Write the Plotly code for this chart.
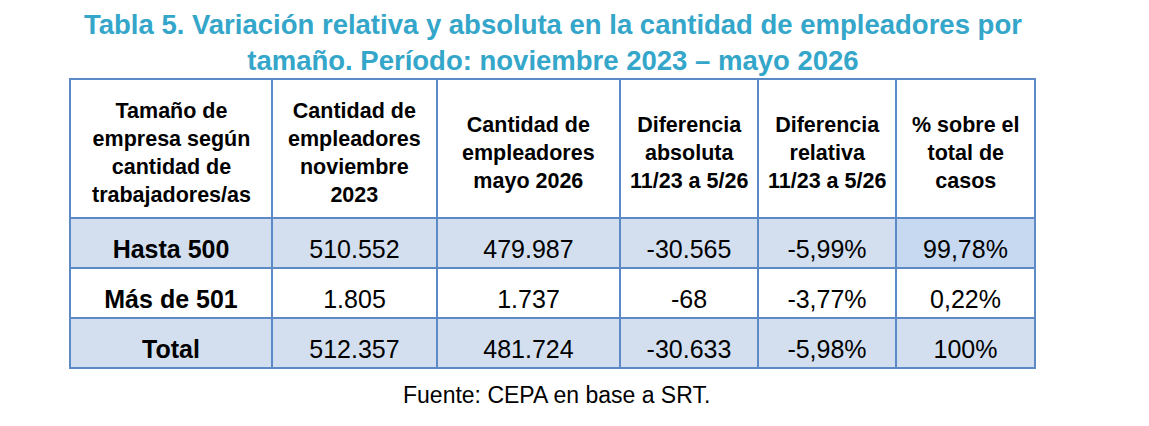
import plotly.graph_objects as go

# datos de la tabla
headers = [
    "Tamaño de<br>empresa según<br>cantidad de<br>trabajadores/as",
    "Cantidad de<br>empleadores<br>noviembre<br>2023",
    "Cantidad de<br>empleadores<br>mayo 2026",
    "Diferencia<br>absoluta<br>11/23 a 5/26",
    "Diferencia<br>relativa<br>11/23 a 5/26",
    "% sobre el<br>total de<br>casos",
]
tamanio = ["Hasta 500", "Más de 501", "Total"]
nov_2023 = ["510.552", "1.805", "512.357"]
may_2026 = ["479.987", "1.737", "481.724"]
dif_abs = ["-30.565", "-68", "-30.633"]
dif_rel = ["-5,99%", "-3,77%", "-5,98%"]
pct_total = ["99,78%", "0,22%", "100%"]

titulo = ("Tabla 5. Variación relativa y absoluta en la cantidad de empleadores por<br>"
          "tamaño. Período: noviembre 2023 – mayo 2026")
fuente = "Fuente: CEPA en base a SRT."

W, H = 1149, 426
off = 8  # margen del body de la página
azul = "#D3DFEF"
azul2 = "#C6D9F1"
borde = "#5B8AC6"
fila = [azul, "white", azul]
fills = [fila] * 5 + [[azul2, "white", azul]]

anchos = [202, 165, 183, 138, 138, 139]
x0, x1 = 70 - off, 1035 - off  # bordes de la tabla en px
top = 79 - off
baja = 13  # el texto de las celdas va un poco más abajo que en plotly

columnas = [tamanio, nov_2023, may_2026, dif_abs, dif_rel, pct_total]
vacias = [[""] * len(tamanio) for _ in columnas]


def px(x):
    return x / W


def py(y):
    return 1 - y / H


# grilla y rellenos
fig = go.Figure(go.Table(
    domain=dict(x=[px(x0), px(x1)], y=[0, py(top)]),
    columnwidth=anchos,
    header=dict(
        values=[""] * len(headers),
        height=139,
        fill_color="white",
        line=dict(color=borde, width=2),
    ),
    cells=dict(
        values=vacias,
        height=50,
        fill_color=fills,
        line=dict(color=borde, width=2),
    ),
))

# textos de las celdas, tabla transparente encima
fig.add_trace(go.Table(
    domain=dict(x=[px(x0), px(x1)], y=[0, py(top + baja)]),
    columnwidth=anchos,
    header=dict(
        values=[""] * len(headers),
        height=139,
        fill_color="rgba(0,0,0,0)",
        line=dict(color="rgba(0,0,0,0)", width=0),
    ),
    cells=dict(
        values=columnas,
        align="center",
        height=50,
        fill_color="rgba(0,0,0,0)",
        line=dict(color="rgba(0,0,0,0)", width=0),
        font=dict(family="Liberation Sans", size=25, color="black",
                  weight=["bold"] + ["normal"] * 5),
    ),
))

# textos del encabezado, centrados en cada columna
total = sum(anchos)
acum = 0
for h, a in zip(headers, anchos):
    cx = x0 + (x1 - x0) * (acum + a / 2) / total
    acum += a
    fig.add_annotation(
        text="<b>%s</b>" % h, x=px(cx), y=py(145), xref="paper", yref="paper",
        xanchor="center", yanchor="middle", align="center", showarrow=False,
        font=dict(family="Liberation Sans", size=21.5, color="black"),
    )

fig.add_annotation(
    text="<b>%s</b>" % titulo, x=px(553 - off), y=py(34), xref="paper", yref="paper",
    xanchor="center", yanchor="middle", showarrow=False, borderpad=0,
    font=dict(family="Liberation Sans", size=27.5, color="#33A6C9"),
)
fig.add_annotation(
    text=fuente, x=px(556 - off), y=py(387), xref="paper", yref="paper",
    xanchor="center", yanchor="middle", showarrow=False,
    font=dict(family="Liberation Sans", size=23, color="black"),
)

fig.update_layout(
    width=W, height=H,
    margin=dict(l=0, r=0, t=0, b=0),
    paper_bgcolor="white",
)

fig.write_html("out.html")
